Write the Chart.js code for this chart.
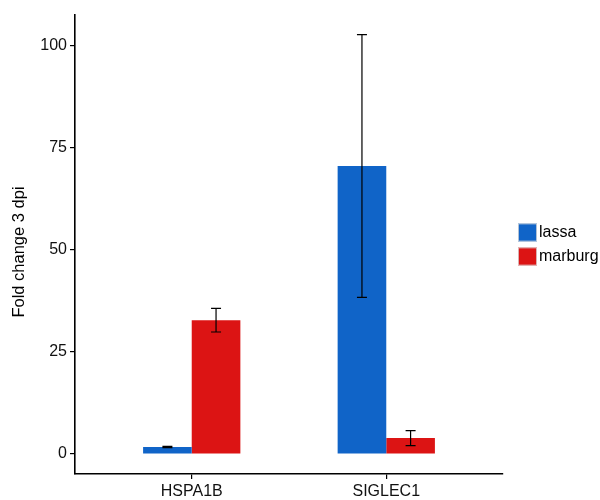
<!DOCTYPE html>
<html>
<head>
<meta charset="utf-8">
<script src="https://cdn.jsdelivr.net/npm/chart.js@4/dist/chart.umd.min.js"></script>
<style>
  html, body { margin: 0; padding: 0; background: #fff; }
  #wrap { width: 600px; height: 500px; }
</style>
</head>
<body>
<div id="wrap"><canvas id="c" width="600" height="500"></canvas></div>
<script>
// Genes on the x axis and fold change per virus (mean and error half-width)
const categories = ['HSPA1B', 'SIGLEC1'];
const lassaValues = [1.7, 70.6];
const lassaErrors = [0.15, 32.2];
const marburgValues = [32.8, 3.9];
const marburgErrors = [2.9, 1.85];
const yTickValues = [0, 25, 50, 75, 100];
const yAxisTitle = 'Fold change 3 dpi';

const FONT = "'Liberation Sans', Arial, Helvetica, sans-serif";

const toPoints = vals => vals.map((v, i) => ({ x: i + 1, y: v }));

// Draws mean ± error whiskers on top of each bar
const errorBars = {
  id: 'errorBars',
  afterDatasetsDraw(chart) {
    const ctx = chart.ctx;
    const y = chart.scales.y;
    ctx.save();
    ctx.strokeStyle = '#000';
    ctx.lineWidth = 1.2;
    chart.data.datasets.forEach((ds, di) => {
      const meta = chart.getDatasetMeta(di);
      meta.data.forEach((bar, i) => {
        const v = ds.data[i].y, e = ds.errors[i];
        const yTop = y.getPixelForValue(v + e);
        const yBot = y.getPixelForValue(v - e);
        const cx = bar.x, half = 5;
        ctx.beginPath();
        ctx.moveTo(cx, yTop); ctx.lineTo(cx, yBot);
        ctx.moveTo(cx - half, yTop); ctx.lineTo(cx + half, yTop);
        ctx.moveTo(cx - half, yBot); ctx.lineTo(cx + half, yBot);
        ctx.stroke();
      });
    });
    ctx.restore();
  }
};

// Rotated y-axis title, set slightly below the panel centre
const yTitle = {
  id: 'yTitle',
  afterDraw(chart) {
    const ctx = chart.ctx;
    const area = chart.chartArea;
    ctx.save();
    ctx.translate(19, (area.top + area.bottom) / 2 + 7.5);
    ctx.rotate(-Math.PI / 2);
    ctx.font = '16.5px ' + FONT;
    ctx.fillStyle = '#000';
    ctx.textAlign = 'center';
    ctx.textBaseline = 'middle';
    ctx.fillText(yAxisTitle, 0, 0);
    ctx.restore();
  }
};

// Legend at the right, vertically centred on the panel
const sideLegend = {
  id: 'sideLegend',
  afterDraw(chart) {
    const ctx = chart.ctx;
    const area = chart.chartArea;
    const x0 = area.right + 15;
    const rowH = 24;
    const n = chart.data.datasets.length;
    const yStart = (area.top + area.bottom) / 2 - (n * rowH) / 2 + 3;
    ctx.save();
    ctx.font = '16px ' + FONT;
    ctx.textBaseline = 'middle';
    ctx.textAlign = 'left';
    chart.data.datasets.forEach((ds, i) => {
      const yy = yStart + i * rowH;
      ctx.fillStyle = ds.backgroundColor;
      ctx.fillRect(x0, yy, 19, 18);
      ctx.strokeStyle = '#d9d9d9';
      ctx.lineWidth = 0.8;
      ctx.strokeRect(x0 + 0.4, yy + 0.4, 18.2, 17.2);
      ctx.fillStyle = '#000';
      ctx.fillText(ds.label, x0 + 21, yy + 9.5);
    });
    ctx.restore();
  }
};

new Chart(document.getElementById('c'), {
  type: 'bar',
  data: {
    datasets: [
      { label: 'lassa', data: toPoints(lassaValues), errors: lassaErrors,
        backgroundColor: '#1064c8', borderWidth: 0 },
      { label: 'marburg', data: toPoints(marburgValues), errors: marburgErrors,
        backgroundColor: '#dc1414', borderWidth: 0 }
    ]
  },
  options: {
    responsive: false,
    animation: false,
    devicePixelRatio: 1,
    layout: { padding: { left: 0, right: 97, top: 15, bottom: 0 } },
    categoryPercentage: 0.5,
    barPercentage: 1.0,
    plugins: {
      legend: { display: false },
      tooltip: { enabled: false }
    },
    scales: {
      x: {
        type: 'linear',
        min: 0.4,
        max: 2.6,
        offset: false,
        grid: { display: true, drawOnChartArea: false, offset: false, tickLength: 5, color: '#000', lineWidth: 1.2 },
        border: { display: true, color: '#000', width: 1.6 },
        afterBuildTicks(scale) { scale.ticks = categories.map((_, i) => ({ value: i + 1 })); },
        afterFit(scale) { scale.height = 26; },
        ticks: {
          autoSkip: false,
          maxRotation: 0,
          padding: 3,
          color: '#111',
          font: { family: FONT, size: 16 },
          callback: v => categories[v - 1]
        }
      },
      y: {
        type: 'linear',
        min: -4.9,
        max: 107.6,
        grid: { display: true, drawOnChartArea: false, tickLength: 5, color: '#000', lineWidth: 1.2 },
        border: { display: true, color: '#000', width: 1.6 },
        afterBuildTicks(scale) { scale.ticks = yTickValues.map(v => ({ value: v })); },
        afterFit(scale) { scale.width = 75; },
        ticks: {
          padding: 3,
          color: '#111',
          font: { family: FONT, size: 16 },
          callback: v => String(v)
        }
      }
    }
  },
  plugins: [errorBars, yTitle, sideLegend]
});
</script>
</body>
</html>
